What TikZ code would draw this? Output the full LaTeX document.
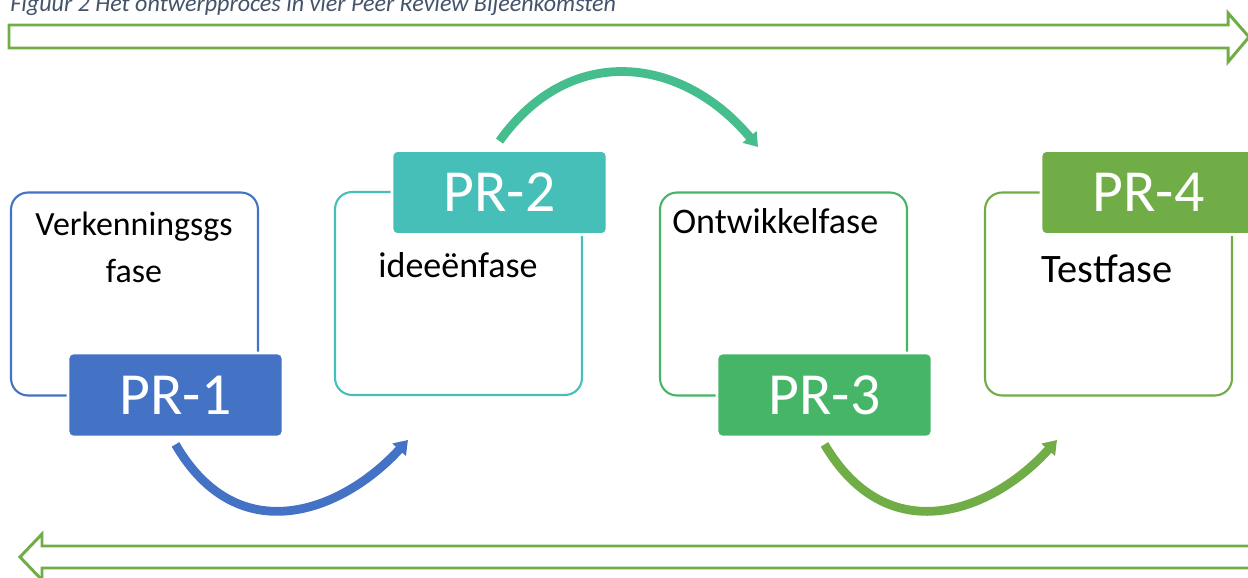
\documentclass[tikz,border=0pt]{standalone}
\usepackage{fontspec}
\setmainfont{Carlito}
\usepackage{xcolor}
\usetikzlibrary{arrows.meta}

\definecolor{prblue}{HTML}{4472C4}
\definecolor{prteal}{HTML}{46BFB9}
\definecolor{prgreen}{HTML}{47B567}
\definecolor{prlime}{HTML}{70AD47}
\definecolor{prmint}{HTML}{45BD8C}
\definecolor{capgray}{HTML}{44546A}

\tikzset{
    phasebox/.style={draw=#1, line width=1.2pt, rounded corners=0.34cm, fill=white,
        minimum width=4.94cm, minimum height=4.06cm, inner sep=0pt},
    prbox/.style={fill=#1, draw=white, line width=1.6pt, rounded corners=0.1cm,
        minimum width=4.3cm, minimum height=1.68cm, text=white,
        font=\fontsize{34}{40}\selectfont},
    phasetext/.style={inner sep=0pt, text=black, font=\fontsize{#1}{26.7}\selectfont},
    flow/.style={draw=#1, line width=5pt, -{Triangle[width=10pt,length=7.5pt]}},
    bigarrow/.style={draw=prlime, line width=1.7pt, line join=miter}
}

\begin{document}
\begin{tikzpicture}[x=0.02cm, y=-0.02cm]
        \useasboundingbox (0,0) rectangle (1248,578);
        \clip (0,0) rectangle (1248,578);

        % Caption
        \node[anchor=base west, inner sep=0pt, text=capgray,
            font=\fontsize{13.7}{16}\selectfont\itshape] (caption) at (10,11)
            {Figuur 2 Het ontwerpproces in vier Peer Review Bijeenkomsten};

        % Draw the forward and return arrows
        \draw[bigarrow] (9,25) -- (1228,25) -- (1228,13) -- (1249,37) -- (1228,62) -- (1228,48) -- (9,48) -- cycle;
        \draw[bigarrow] (1262,546) -- (42,546) -- (42,534) -- (20,557) -- (42,580) -- (42,568) -- (1262,568);

        % Draw the phases
        \node[phasebox=prblue] (fase1) at (134.5,294) {};
        \node[phasebox=prteal] (fase2) at (458.5,293.5) {};
        \node[phasebox=prgreen] (fase3) at (783.5,294) {};
        \node[phasebox=prlime] (fase4) at (1108.5,294) {};

        % Label the phases
        \node[phasetext=19.3, align=center, anchor=north] (label1) at (134,212) {Verkenningsgs\\fase};
        \node[phasetext=20.5, anchor=base] (label2) at (458,277) {ideeënfase};
        \node[phasetext=20.5, anchor=base west] (label3) at (672,233) {Ontwikkelfase};
        \node[phasetext=23, anchor=base] (label4) at (1107,282) {Testfase};

        % Draw the peer reviews
        \node[prbox=prblue] (pr1) at (175.5,395) {PR-1};
        \node[prbox=prteal] (pr2) at (499.5,192.5) {PR-2};
        \node[prbox=prgreen] (pr3) at (824.5,395) {PR-3};
        \node[prbox=prlime] (pr4) at (1148.5,192.5) {PR-4};

        % Draw the flow between the reviews
        \coordinate (end1) at (408,440);
        \coordinate (end2) at (758,147);
        \coordinate (end3) at (1057,440);
        \draw[flow=prblue] ([yshift=-0.12cm]pr1.south) .. controls (238,552) and (342,512) .. (end1);
        \draw[flow=prmint] ([yshift=0.16cm]pr2.north) .. controls (570,42) and (682,56) .. (end2);
        \draw[flow=prlime] ([yshift=-0.12cm]pr3.south) .. controls (888,552) and (992,512) .. (end3);
    \end{tikzpicture}
\end{document}
